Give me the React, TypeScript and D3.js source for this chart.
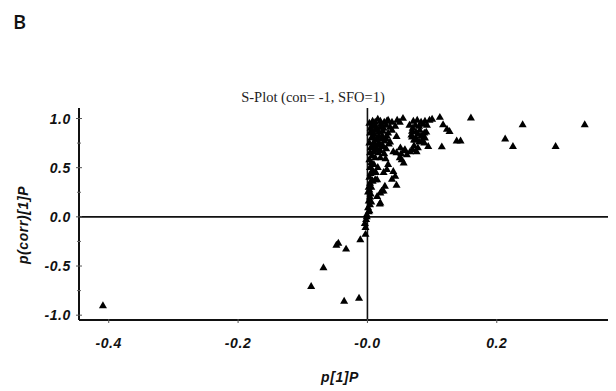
import * as d3 from 'd3'

// S-plot loadings: p[1]P (x) against p(corr)[1]P (y)
const pLoad = [
  // near-zero column
  0.003, 0.005, 0.004, 0.006, 0.003, 0.005, 0.004, 0.007, 0.003, 0.006, 0.004, 0.008, 0.005, 0.003, 0.007, 0.004,
  0.006, 0.003, 0.005, 0.004, 0.002, 0.004, 0.001, 0.002, -0.001, -0.001, -0.002, -0.004, -0.003, -0.003, -0.011,
  0.012, 0.015, 0.01, 0.013, 0.011, 0.014, 0.012, 0.01, 0.013, 0.015, 0.019, 0.02, 0.016,
  0.002, 0.006, 0.001, 0.008, 0.003,
  // spread between column and cluster
  0.03, 0.04, 0.043, 0.045, 0.027, 0.022, 0.02, 0.012, 0.015, 0.056, 0.032, 0.053, 0.038, 0.025, 0.02, 0.025,
  // top cluster rows
  0.016, 0.02, 0.026, 0.032, 0.038, 0.055, 0.071, 0.077, 0.083, 0.089, 0.096, 0.1, 0.112,
  0.007, 0.013, 0.021, 0.029, 0.035, 0.043, 0.074, 0.08, 0.086, 0.092, 0.117,
  0.006, 0.012, 0.018, 0.024, 0.032, 0.038, 0.069, 0.075, 0.081, 0.088, 0.123, 0.127,
  0.009, 0.015, 0.023, 0.029, 0.045, 0.069, 0.075, 0.083, 0.089,
  0.01, 0.018, 0.026, 0.033, 0.074, 0.08, 0.088, 0.138, 0.144,
  0.013, 0.021, 0.029, 0.051, 0.058, 0.072, 0.078, 0.094, 0.115,
  0.017, 0.026, 0.045, 0.052, 0.061, 0.076, 0.05, 0.028,
  // extra density in the cluster
  0.008, 0.012, 0.02, 0.025, 0.03, 0.018, 0.022, 0.008, 0.016, 0.024, 0.009, 0.02, 0.03, 0.035, 0.046, 0.05,
  0.068, 0.078, 0.086, 0.072, 0.084, 0.091, 0.065, 0.07,
  0.04, 0.057, 0.066, 0.07,
  // right outliers
  0.16, 0.24, 0.336, 0.213, 0.225, 0.291,
  // negative side
  -0.409, -0.045, -0.048, -0.033, -0.068, -0.087, -0.036, -0.013,
]
const pCorr = [
  0.95, 0.9, 0.85, 0.8, 0.75, 0.7, 0.65, 0.62, 0.58, 0.55, 0.5, 0.47, 0.44, 0.4, 0.37, 0.34,
  0.3, 0.27, 0.23, 0.2, 0.16, 0.12, 0.09, 0.05, 0.02, 0.0, -0.03, -0.07, -0.11, -0.18, -0.235,
  0.92, 0.88, 0.84, 0.78, 0.72, 0.68, 0.6, 0.53, 0.45, 0.375, 0.13, 0.6, 0.5,
  0.3, 0.15, 0.25, 0.36, 0.06,
  0.48, 0.46, 0.41, 0.32, 0.31, 0.26, 0.14, 0.375, 0.205, 0.545, 0.53, 0.58, 0.38, 0.26, 0.24, 0.45,
  0.99, 0.97, 0.96, 0.98, 0.96, 1.0, 0.97, 0.98, 0.96, 0.97, 0.98, 0.99, 1.01,
  0.93, 0.92, 0.94, 0.93, 0.91, 0.92, 0.93, 0.92, 0.94, 0.93, 0.935,
  0.87, 0.88, 0.86, 0.87, 0.85, 0.88, 0.87, 0.86, 0.88, 0.85, 0.89, 0.867,
  0.81, 0.8, 0.82, 0.79, 0.816, 0.81, 0.8, 0.82, 0.8,
  0.76, 0.75, 0.77, 0.74, 0.78, 0.76, 0.75, 0.77, 0.77,
  0.7, 0.71, 0.69, 0.7, 0.68, 0.72, 0.7, 0.714, 0.71,
  0.65, 0.64, 0.65, 0.64, 0.63, 0.66, 0.6, 0.59,
  0.97, 0.96, 0.91, 0.9, 0.97, 0.82, 0.79, 0.72, 0.73, 0.72, 0.66, 0.67, 0.82, 0.76, 0.98, 0.96,
  0.83, 0.84, 0.82, 0.78, 0.77, 0.86, 0.93, 0.9,
  0.66, 0.67, 0.66, 0.68,
  1.003, 0.935, 0.935, 0.79, 0.714, 0.714,
  -0.906, -0.27, -0.29, -0.33, -0.52, -0.71, -0.86, -0.83,
]

const xTicks = [-0.4, -0.2, 0, 0.2]
const xTickLabels = ['-0.4', '-0.2', '-0.0', '0.2']
const yTicks = [1, 0.5, 0, -0.5, -1]
const yTickLabels = ['1.0', '0.5', '0.0', '-0.5', '-1.0']
const yMinor = [0.75, 0.25, -0.25, -0.75]

const W = 616
const H = 391
const left = 79
const right = 608
const top = 108
const bottom = 320

export default function App() {
  const x = d3.scaleLinear().domain([-0.446, 0.372]).range([left, right])
  const y = d3.scaleLinear().domain([-1.049, 1.107]).range([bottom, top])
  const tri = d3.symbol(d3.symbolTriangle, 28)()
  const points = pLoad.map((v, i) => ({ x: v, y: pCorr[i] }))
  const tickFont = {
    fontFamily: 'Liberation Sans, Arial, sans-serif',
    fontWeight: 700,
    fontStyle: 'italic',
    fontSize: 14,
    letterSpacing: 0.6,
  }

  return (
    <svg width={W} height={H} style={{ position: 'absolute', left: 0, top: 0, background: '#fff' }}>
      <text x={13} y={29} style={{ fontFamily: 'Open Sans, sans-serif', fontWeight: 600, fontSize: 20 }} fill="#111">
        B
      </text>
      <text x={313} y={102} textAnchor="middle" style={{ fontFamily: 'Liberation Serif, Times New Roman, serif', fontSize: 14.5 }} fill="#222">
        S-Plot (con= -1, SFO=1)
      </text>

      {/* zero lines */}
      <line x1={left} x2={right} y1={y(0)} y2={y(0)} stroke="#111" strokeWidth={1.6} />
      <line x1={x(0)} x2={x(0)} y1={top} y2={bottom} stroke="#111" strokeWidth={1.6} />

      {/* y axis */}
      <line x1={left} x2={left} y1={top} y2={bottom} stroke="#111" strokeWidth={2} />
      {yTicks.map((t, i) => (
        <g key={'y' + i}>
          <line x1={left - 3} x2={left + 3} y1={y(t)} y2={y(t)} stroke="#555" strokeWidth={1} />
          <text x={71} y={y(t) + 5} textAnchor="end" style={tickFont} fill="#111">
            {yTickLabels[i]}
          </text>
        </g>
      ))}
      {yMinor.map((t, i) => (
        <line key={'ym' + i} x1={left - 2} x2={left + 2} y1={y(t)} y2={y(t)} stroke="#666" strokeWidth={1} />
      ))}

      {/* x axis */}
      <line x1={left} x2={right} y1={bottom} y2={bottom} stroke="#111" strokeWidth={2} />
      {xTicks.map((t, i) => (
        <g key={'x' + i}>
          <line x1={x(t)} x2={x(t)} y1={bottom - 1} y2={bottom + 3} stroke="#555" strokeWidth={1} />
          <text x={x(t)} y={348} textAnchor="middle" style={tickFont} fill="#111">
            {xTickLabels[i]}
          </text>
        </g>
      ))}

      <text x={340} y={382} textAnchor="middle" style={tickFont} fill="#111">
        p[1]P
      </text>
      <text transform={`translate(28,${225}) rotate(-90)`} textAnchor="middle" style={tickFont} fill="#111">
        p(corr)[1]P
      </text>

      {points.map((d, i) => (
        <path key={i} d={tri ?? ''} transform={`translate(${x(d.x)},${y(d.y)})`} fill="#000" />
      ))}
    </svg>
  )
}
